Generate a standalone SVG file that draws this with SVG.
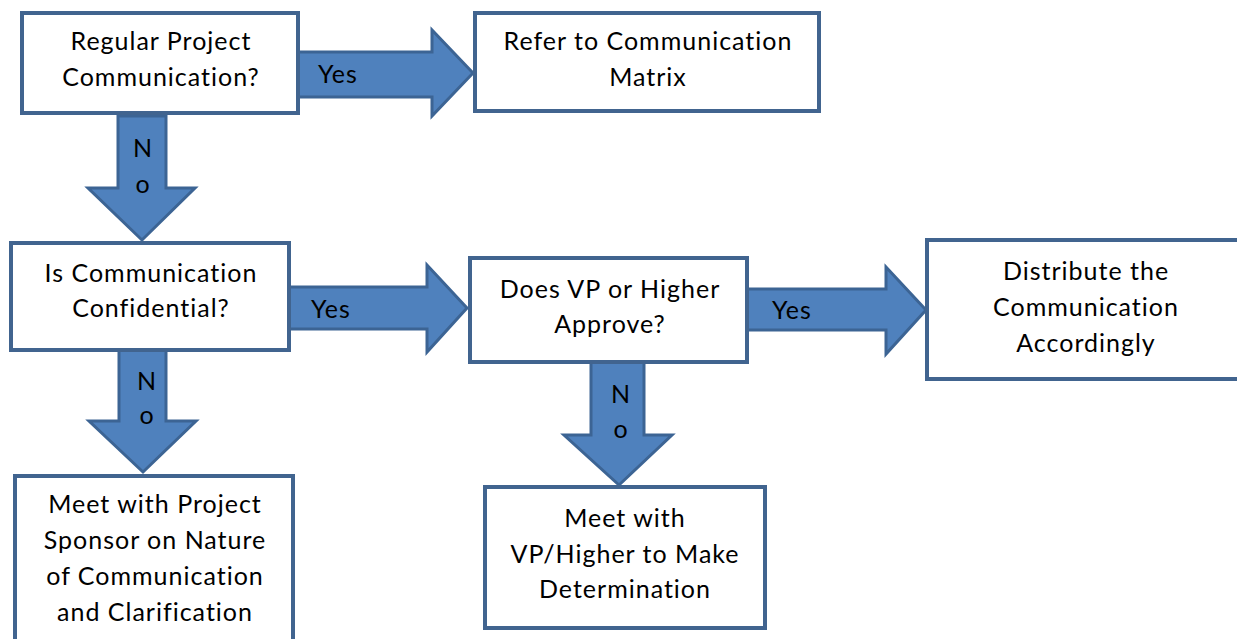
<svg xmlns="http://www.w3.org/2000/svg" width="1237" height="639" viewBox="0 0 1237 639">
<style>
.box{fill:#ffffff;stroke:#41648f;stroke-width:4;stroke-linejoin:miter}
.arr{fill:#4f81bd;stroke:#3c6494;stroke-width:3;stroke-linejoin:miter}
text{font-family:Lato,"Open Sans","Liberation Sans",sans-serif;font-size:25px;letter-spacing:1px;fill:#000;text-anchor:middle}
.lbl{text-anchor:start}
</style>
<rect width="1237" height="639" fill="#ffffff"/>
<g id="connectors">
<g id="c1"><polygon class="arr" points="298,52 432,52 432,30 473,73 432,116 432,97 298,97"/><text class="lbl" x="318" y="83">Yes</text></g>
<g id="c2"><polygon class="arr" points="118,116 166,116 166,188 195,188 142,240 88,188 118,188"/><text x="143" y="157">N</text><text x="143" y="193">o</text></g>
<g id="c3"><polygon class="arr" points="289,287 427,287 427,265 467,308 427,352 427,329 289,329"/><text class="lbl" x="311" y="318">Yes</text></g>
<g id="c4"><polygon class="arr" points="119,350 166,350 166,421 196,421 143,472 89,421 119,421"/><text x="147" y="390">N</text><text x="147" y="424">o</text></g>
<g id="c5"><polygon class="arr" points="747,289 886,289 886,267 926,310 886,354 886,330 747,330"/><text class="lbl" x="772" y="319">Yes</text></g>
<g id="c6"><polygon class="arr" points="591,362 644,362 644,435 672,435 619,485 564,435 591,435"/><text x="621" y="403">N</text><text x="621" y="438">o</text></g>
</g>
<g id="n1"><rect class="box" x="22" y="13" width="276" height="100"/><text x="161" y="50">Regular Project</text><text x="161" y="86">Communication?</text></g>
<g id="n2"><rect class="box" x="475" y="13" width="344" height="98"/><text x="648" y="50">Refer to Communication</text><text x="648" y="86">Matrix</text></g>
<g id="n3"><rect class="box" x="11" y="243" width="278" height="107"/><text x="151" y="282">Is Communication</text><text x="151" y="317">Confidential?</text></g>
<g id="n4"><rect class="box" x="470" y="258" width="277" height="104"/><text x="610" y="298">Does VP or Higher</text><text x="610" y="333">Approve?</text></g>
<g id="n5"><rect class="box" x="927" y="240" width="330" height="139"/><text x="1086" y="280">Distribute the</text><text x="1086" y="316">Communication</text><text x="1086" y="352">Accordingly</text></g>
<g id="n6"><rect class="box" x="15" y="476" width="278" height="180"/><text x="155" y="513">Meet with Project</text><text x="155" y="549">Sponsor on Nature</text><text x="155" y="585">of Communication</text><text x="155" y="621">and Clarification</text></g>
<g id="n7"><rect class="box" x="485" y="487" width="280" height="141"/><text x="625" y="527">Meet with</text><text x="625" y="563">VP/Higher to Make</text><text x="625" y="598">Determination</text></g>
</svg>
